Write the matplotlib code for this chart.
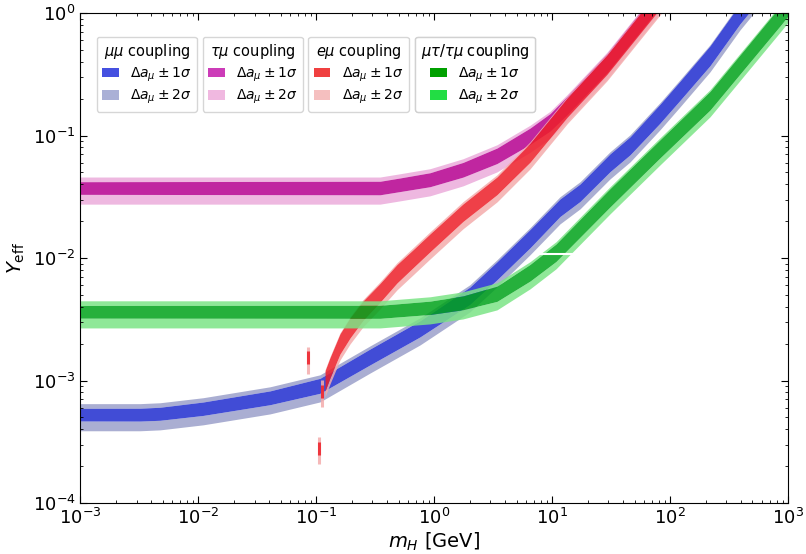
import numpy as np
import matplotlib
matplotlib.use('Agg')
import matplotlib.pyplot as plt
from matplotlib.patches import Patch

# band edges relative to the central value
sig1 = (0.875, 1.11)
sig2 = (0.728, 1.212)
# extra widening of the 1 sigma band where the curve is steep (decades per unit slope)
smear = 0.024

# mu-mu coupling (blue)
mm_mass = [1e-3, 3.21e-3, 4.74e-3, 0.011, 0.0406, 0.1076, 0.286, 0.759, 2.01, 3.41, 6.5,
           11.67, 17.26, 31.0, 45.8, 82.2, 121.3, 218, 392, 708]
mm_Y = [5.34e-4, 5.34e-4, 5.43e-4, 5.97e-4, 7.33e-4, 9.18e-4, 1.58e-3, 2.68e-3, 4.99e-3, 7.98e-3, 1.46e-2,
        2.61e-2, 3.46e-2, 6.08e-2, 8.36e-2, 0.153, 0.235, 0.454, 1.0, 2.0]

# tau-mu coupling (magenta)
tm_mass = [1e-3, 0.3475, 0.514, 0.923, 1.758, 3.41, 6.5, 9.62, 13.4, 29.2, 65.0, 100]
tm_Y = [0.0378, 0.0378, 0.0402, 0.0442, 0.0533, 0.0693, 0.1, 0.13, 0.178, 0.395, 1.03, 1.75]

# e-mu coupling (red)
em_mass = [0.1189, 0.1309, 0.1592, 0.1936, 0.2495, 0.3475, 0.4842, 0.6622, 0.923, 1.758, 3.41,
           6.5, 13.4, 29.2, 65.0, 100]
em_Y = [1.01e-3, 1.29e-3, 2.02e-3, 2.73e-3, 3.77e-3, 5.27e-3, 7.55e-3, 0.0100, 0.0135, 0.0238, 0.0394,
        0.0733, 0.171, 0.384, 1.0, 1.67]
# isolated e-mu points near the muon mass
em_spike_mass = [0.0851, 0.105, 0.112]
em_spike_Y = [1.56e-3, 2.84e-4, 8.3e-4]

# mu-tau / tau-mu coupling (green)
mt_mass = [1e-3, 0.3475, 0.923, 1.758, 3.41, 6.5, 10.79, 31.0, 82.2, 218, 889, 1259]
mt_Y = [3.69e-3, 3.69e-3, 3.98e-3, 4.37e-3, 5.18e-3, 7.69e-3, 0.0112, 0.0315, 0.079, 0.195, 1.0, 1.52]
# white gap across the green band
gap_Y = 0.0107
gap_m = (7.2, 16.2)

ALPHA = 0.85
band_cols = {
    'mm': ('#202ccf', '#9ba0ca'),
    'tm': ('#b5008f', '#ebacdb'),
    'em': ('#ed1e28', '#f4acac'),
    'mt': ('#00a21a', '#7ce486'),
}
leg_cols = {
    'mm': ('#4550e0', '#aab0d6'),
    'tm': ('#cc3cb8', '#f0b8e0'),
    'em': ('#f04040', '#f5bfbf'),
    'mt': ('#00a000', '#22dd44'),
}


def band(ax, m, y, cols):
    m = np.array(m)
    y = np.array(y)
    c1, c2 = cols
    slope = np.abs(np.gradient(np.log10(y), np.log10(m)))
    slope = np.minimum(slope, 1.3)
    w = 10 ** (slope * smear)
    lo1 = y * sig1[0] / w
    hi1 = y * sig1[1] * w
    ax.fill_between(m, y * sig2[0], lo1, color=c2, alpha=ALPHA, lw=0)
    ax.fill_between(m, hi1, y * sig2[1], color=c2, alpha=ALPHA, lw=0)
    ax.fill_between(m, lo1, hi1, color=c1, alpha=ALPHA, lw=0)


fig = plt.figure(figsize=(8.06, 5.54), dpi=100)
ax = fig.add_axes([80.3 / 806, 1 - 503 / 554, (788 - 80.3) / 806, 490 / 554])

band(ax, mm_mass, mm_Y, band_cols['mm'])
band(ax, tm_mass, tm_Y, band_cols['tm'])
band(ax, em_mass, em_Y, band_cols['em'])

sm = np.array(em_spike_mass)
sy = np.array(em_spike_Y)
ax.vlines(sm, sy * sig2[0], sy * sig2[1], color=band_cols['em'][1], alpha=ALPHA, lw=2.2)
ax.vlines(sm, sy * sig1[0], sy * sig1[1], color=band_cols['em'][0], alpha=ALPHA, lw=2.2)

band(ax, mt_mass, mt_Y, band_cols['mt'])
ax.hlines(gap_Y, gap_m[0], gap_m[1], color='white', lw=1.5)

ax.set_xscale('log')
ax.set_yscale('log')
ax.set_xlim(1e-3, 1e3)
ax.set_ylim(1e-4, 1e0)
ax.set_xlabel(r'$m_H$ [GeV]', fontsize=14, labelpad=2)
ax.set_ylabel(r'$Y_{\rm eff}$', fontsize=14)
ax.tick_params(which='both', direction='in', top=True, right=True, labelsize=13)
ax.tick_params(which='major', length=5)
ax.tick_params(which='minor', length=2.5)

titles = {'mm': r'$\mu\mu$ coupling', 'tm': r'$\tau\mu$ coupling',
          'em': r'$e\mu$ coupling', 'mt': r'$\mu\tau/\tau\mu$ coupling'}
labels = [r'$\Delta a_\mu \pm 1\sigma$', r'$\Delta a_\mu \pm 2\sigma$']
xpos = {'mm': 0.0232, 'tm': 0.1729, 'em': 0.3221, 'mt': 0.4729}
for key in ['mm', 'tm', 'em', 'mt']:
    hs = [Patch(facecolor=c, edgecolor='none') for c in leg_cols[key]]
    leg = ax.legend(hs, labels, title=titles[key], loc='upper left',
                    bbox_to_anchor=(xpos[key], 0.9516), borderaxespad=0,
                    fontsize=10, title_fontsize=10.5, handlelength=1.2,
                    handletextpad=0.8, labelspacing=0.3, borderpad=0.4)
    ax.add_artist(leg)

fig.savefig('out.png', dpi=100)
